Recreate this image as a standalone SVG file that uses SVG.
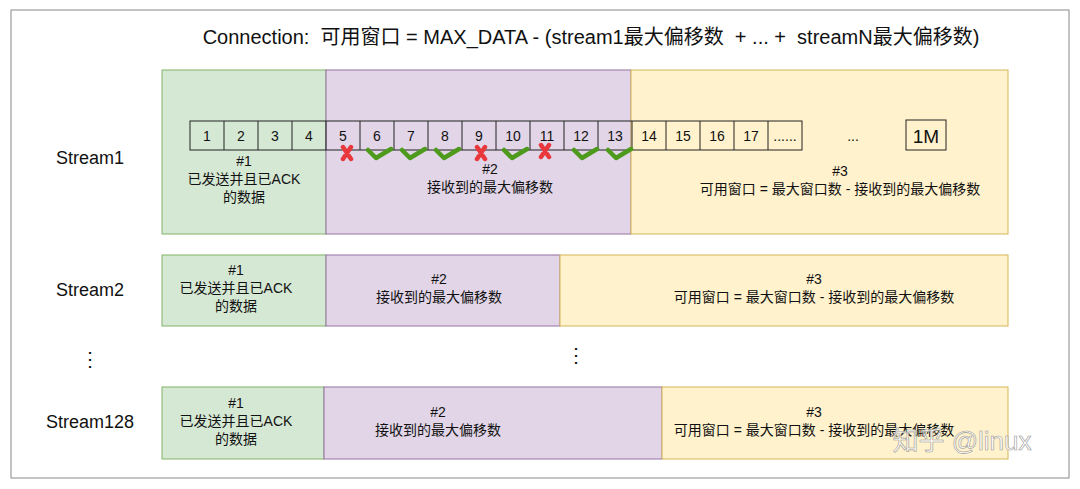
<svg xmlns="http://www.w3.org/2000/svg" width="1080" height="489" viewBox="0 0 1080 489">
<style>
text{font-family:"Liberation Sans","Noto Sans CJK SC",sans-serif;fill:#111;text-anchor:middle}
.g{fill:#d5e8d4;stroke:#82b366;stroke-width:1}
.p{fill:#e1d5e7;stroke:#9673a6;stroke-width:1}
.y{fill:#fff2cc;stroke:#d6b656;stroke-width:1}
.c{fill:none;stroke:#222;stroke-width:1}
.t{font-size:14px}
.s{font-size:18px}
.ok{fill:none;stroke:#4d9a1c;stroke-width:4.5;stroke-linecap:round;stroke-linejoin:round}
.no{fill:none;stroke:#e8383b;stroke-width:4.5;stroke-linecap:round}
</style>
<rect width="1080" height="489" fill="#fff"/>
<rect x="11" y="10" width="1058" height="468" fill="none" stroke="#888"/>
<text x="591" y="44" font-size="20" xml:space="preserve" style="white-space:pre">Connection:  可用窗口 = MAX_DATA - (stream1最大偏移数  + ... +  streamN最大偏移数)</text>
<g id="stream1">
<text class="s" x="90" y="164">Stream1</text>
<rect class="g" x="162" y="70" width="164" height="164"/>
<rect class="p" x="326" y="70" width="305" height="164"/>
<rect class="y" x="631" y="70" width="377" height="164"/>
<g class="c">
<rect x="190" y="121" width="612" height="29"/>
<path d="M224 121v29M258 121v29M292 121v29M326 121v29M360 121v29M394 121v29M428 121v29M462 121v29M496 121v29M530 121v29M564 121v29M598 121v29M632 121v29M666 121v29M700 121v29M734 121v29M768 121v29"/>
<rect x="906" y="120" width="40" height="30"/>
</g>
<g class="t">
<text x="207" y="141">1</text><text x="241" y="141">2</text><text x="275" y="141">3</text><text x="309" y="141">4</text>
<text x="343" y="141">5</text><text x="377" y="141">6</text><text x="411" y="141">7</text><text x="445" y="141">8</text>
<text x="479" y="141">9</text><text x="513" y="141">10</text><text x="547" y="141">11</text><text x="581" y="141">12</text>
<text x="615" y="141">13</text><text x="649" y="141">14</text><text x="683" y="141">15</text><text x="717" y="141">16</text>
<text x="751" y="141">17</text><text x="785" y="141">......</text><text x="853" y="141">...</text>
</g>
<text x="926" y="143" font-size="19">1M</text>
<path class="no" d="M343 147l8 12M351 147l-8 12M477 147l8 12M485 147l-8 12M541 145l8 12M549 145l-8 12"/>
<path class="ok" d="M368 150l8 8 15-9M402 150l8 8 15-9M436 150l8 8 15-9M504 150l8 8 15-9M574 150l8 8 15-9M608 150l8 8 15-9"/>
<text class="t" x="244" y="166">#1</text><text class="t" x="244" y="184">已发送并且已ACK</text><text class="t" x="244" y="202">的数据</text>
<text class="t" x="490" y="174">#2</text><text class="t" x="490" y="192">接收到的最大偏移数</text>
<text class="t" x="840" y="176">#3</text><text class="t" x="840" y="194">可用窗口 = 最大窗口数 - 接收到的最大偏移数</text>
</g>
<g id="stream2">
<text class="s" x="90" y="296">Stream2</text>
<rect class="g" x="162" y="255" width="164" height="71"/>
<rect class="p" x="326" y="255" width="234" height="71"/>
<rect class="y" x="560" y="255" width="448" height="71"/>
<text class="t" x="236" y="275">#1</text><text class="t" x="236" y="293">已发送并且已ACK</text><text class="t" x="236" y="311">的数据</text>
<text class="t" x="439" y="284">#2</text><text class="t" x="439" y="302">接收到的最大偏移数</text>
<text class="t" x="814" y="284">#3</text><text class="t" x="814" y="302">可用窗口 = 最大窗口数 - 接收到的最大偏移数</text>
</g>
<g id="dots">
<text x="90" y="366" font-size="20">⋮</text>
<text x="576" y="362" font-size="20">⋮</text>
</g>
<g id="stream128">
<text class="s" x="90" y="428">Stream128</text>
<rect class="g" x="162" y="387" width="162" height="72"/>
<rect class="p" x="324" y="387" width="338" height="72"/>
<rect class="y" x="662" y="387" width="346" height="72"/>
<text class="t" x="236" y="408">#1</text><text class="t" x="236" y="426">已发送并且已ACK</text><text class="t" x="236" y="444">的数据</text>
<text class="t" x="438" y="417">#2</text><text class="t" x="438" y="435">接收到的最大偏移数</text>
<text class="t" x="814" y="417">#3</text><text class="t" x="814" y="435">可用窗口 = 最大窗口数 - 接收到的最大偏移数</text>
</g>
<text x="962" y="450" font-size="26" style="fill:#fff;fill-opacity:0.75;stroke:#999;stroke-width:0.6">知乎 @linux</text>
</svg>
